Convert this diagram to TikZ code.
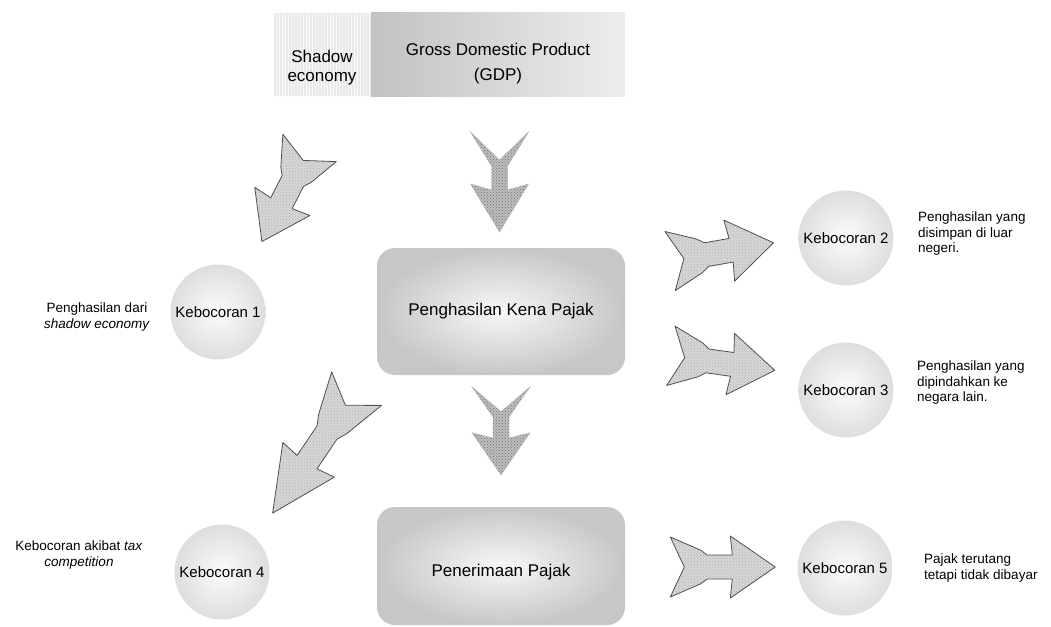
\documentclass[tikz,border=0pt]{standalone}
\usepackage{fontspec}
\setmainfont{Liberation Sans}
\usetikzlibrary{calc,patterns}
\definecolor{leakGray}{RGB}{214,214,214}
\definecolor{flowGray}{RGB}{190,190,190}
\definecolor{edgeGray}{RGB}{80,80,80}

\tikzset{
  leakfill/.style={preaction={fill=leakGray}, pattern=crosshatch dots,
    pattern color=gray!60, draw=edgeGray, line width=0.8pt, line join=round},
  flowfill/.style={preaction={fill=flowGray}, pattern=crosshatch dots,
    pattern color=gray!85!black, draw=gray!60, line width=0.4pt},
  leakarrow/.pic={
    \path[leakfill] (-52,30) -- (-22,17) -- (-15,12) -- (10,12) -- (8,31) -- (53,0)
      -- (8,-31) -- (10,-12) -- (-15,-12) -- (-22,-17) -- (-52,-30) -- (-38,0) -- cycle;
  },
  flowarrow/.pic={
    \path[flowfill] (-50,29) -- (-16,8) -- (8,8) -- (2,29) -- (50,0)
      -- (2,-29) -- (8,-8) -- (-16,-8) -- (-50,-29) -- (-22,0) -- cycle;
  }
}

\begin{document}
\begin{tikzpicture}[x=1pt, y=-1pt,
    every node/.style={inner sep=0pt},
    boxtext/.style={font=\fontsize{17}{19}\selectfont, align=center},
    leaktext/.style={font=\fontsize{15}{18}\selectfont},
    note/.style={font=\fontsize{13.5}{15.5}\selectfont},
    leakcircle/.style={circle, minimum size=95pt, leaktext, inner color=gray!3, outer color=gray!26},
    mainbox/.style={rounded corners=18pt, minimum width=248pt, boxtext, inner color=gray!6, outer color=gray!44}]
  \useasboundingbox (0,0) rectangle (1051,626);

  % top bar
  \node[minimum width=97pt, minimum height=83pt, preaction={fill=gray!17},
    pattern=vertical lines, pattern color=gray!5] (shadow) at (322.5,54.5) {};
  \node[minimum width=254pt, minimum height=83pt, left color=gray!48, right color=gray!14] (gdp) at (498,54.5) {};
  \node[boxtext] (shadowtext) at (322,67.5) {Shadow\\economy};
  \node[boxtext] (gdptext) at (498,63.5) {Gross Domestic Product\\[6pt](GDP)};

  % main boxes
  \node[mainbox, minimum height=127pt] (pkp) at (501,311.5) {Penghasilan Kena Pajak};
  \node[mainbox, minimum height=118pt, text height=24pt, text depth=3.5pt] (pp) at (501,566) {Penerimaan Pajak};

  % leaks
  \node[leakcircle] (k1) at (218,312) {Kebocoran 1};
  \node[leakcircle] (k2) at (846,238) {Kebocoran 2};
  \node[leakcircle] (k3) at (846,390) {Kebocoran 3};
  \node[leakcircle] (k4) at (222,572) {Kebocoran 4};
  \node[leakcircle] (k5) at (845,568) {Kebocoran 5};

  % notes
  \node[note, align=center] (n1) at (97,317) {Penghasilan dari\\\textit{shadow economy}};
  \node[note, align=left, anchor=west] (n2) at (918,234) {Penghasilan yang\\disimpan di luar\\negeri.};
  \node[note, align=left, anchor=west] (n3) at (917,383) {Penghasilan yang\\dipindahkan ke\\negara lain.};
  \node[note, align=center] (n4) at (79,555) {Kebocoran akibat \textit{tax}\\\textit{competition}};
  \node[note, align=left, anchor=west] (n5) at (924,568) {Pajak terutang\\tetapi tidak dibayar};

  % arrows
  \pic[rotate=-90] at ($(gdp.south)!0.5!(pkp.north)+(0,10)$) {flowarrow};
  \pic[rotate=-90, xscale=0.88] at ($(pkp.south)!0.5!(pp.north)+(0,-10)$) {flowarrow};
  \pic[rotate=243] at ($(k1.north)+(68,-70)$) {leakarrow};
  \pic[rotate=236, xscale=1.43] at ($(k4.north)+(93,-74)$) {leakarrow};
  \pic[rotate=10] at ($(k2.west)+(-77,14)$) {leakarrow};
  \pic[rotate=-8] at ($(k3.west)+(-76,-27)$) {leakarrow};
  \pic at ($(k5.west)+(-75,-1)$) {leakarrow};
\end{tikzpicture}
\end{document}
